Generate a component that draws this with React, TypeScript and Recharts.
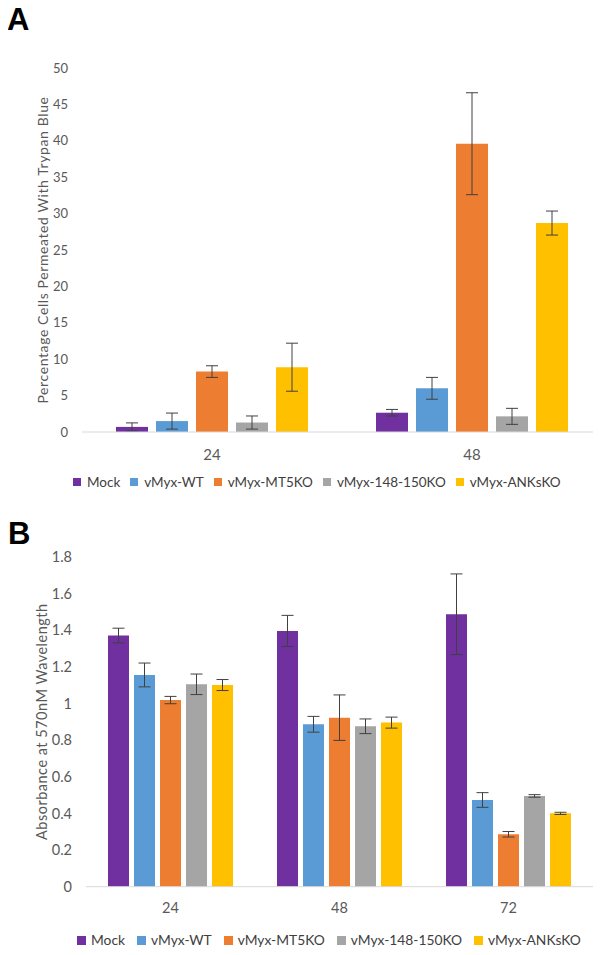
import React from 'react';
import { BarChart, Bar, XAxis, YAxis, ErrorBar } from 'recharts';

const seriesNames = ['Mock', 'vMyx-WT', 'vMyx-MT5KO', 'vMyx-148-150KO', 'vMyx-ANKsKO'];
const seriesColors = ['#7030A0', '#5B9BD5', '#ED7D31', '#A5A5A5', '#FFC000'];

// Panel A: percentage of cells permeated with trypan blue
const catsA = ['24', '48'];
const mockA = [0.7, 2.65];
const wtA = [1.5, 6.0];
const mt5A = [8.3, 39.6];
const ko148A = [1.3, 2.15];
const anksA = [8.9, 28.7];
const mockErrA = [0.55, 0.45];
const wtErrA = [1.1, 1.5];
const mt5ErrA = [0.8, 7.0];
const ko148ErrA = [0.9, 1.1];
const anksErrA = [3.3, 1.65];
const ticksA = [0, 5, 10, 15, 20, 25, 30, 35, 40, 45, 50];

// Panel B: absorbance at 570nM
const catsB = ['24', '48', '72'];
const mockB = [1.37, 1.395, 1.486];
const wtB = [1.155, 0.886, 0.473];
const mt5B = [1.018, 0.922, 0.286];
const ko148B = [1.104, 0.875, 0.495];
const anksB = [1.1, 0.895, 0.4];
const mockErrB = [0.04, 0.085, 0.22];
const wtErrB = [0.065, 0.043, 0.04];
const mt5ErrB = [0.02, 0.124, 0.015];
const ko148ErrB = [0.056, 0.04, 0.007];
const anksErrB = [0.03, 0.03, 0.006];
const ticksB = [0, 0.2, 0.4, 0.6, 0.8, 1, 1.2, 1.4, 1.6, 1.8];

function buildRows(cats: string[], vals: number[][], errs: number[][]) {
  return cats.map((c, i) => {
    const row: Record<string, any> = { cat: c };
    vals.forEach((v, s) => {
      row['s' + s] = v[i];
      row['e' + s] = errs[s][i];
    });
    return row;
  });
}

const dataA = buildRows(catsA, [mockA, wtA, mt5A, ko148A, anksA], [mockErrA, wtErrA, mt5ErrA, ko148ErrA, anksErrA]);
const dataB = buildRows(catsB, [mockB, wtB, mt5B, ko148B, anksB], [mockErrB, wtErrB, mt5ErrB, ko148ErrB, anksErrB]);

const FONT = 'Lato, "Open Sans", sans-serif';
const TICK = '#595959';

function Legend({ top, left, fontSize, gap, sq, sqGap }: { top: number; left: number; fontSize: number; gap: number; sq: number; sqGap: number }) {
  return (
    <div
      style={{
        position: 'absolute',
        top,
        left,
        display: 'flex',
        alignItems: 'center',
        gap,
        fontFamily: FONT,
        fontSize,
        color: '#404040',
        lineHeight: '16px',
        whiteSpace: 'nowrap',
      }}
    >
      {seriesNames.map((n, i) => (
        <div key={n} style={{ display: 'flex', alignItems: 'center' }}>
          <span style={{ display: 'inline-block', width: sq, height: sq, background: seriesColors[i], marginRight: sqGap }} />
          <span>{n}</span>
        </div>
      ))}
    </div>
  );
}

const fmtB = (v: number) => String(Number(v.toFixed(1)));

export default function App() {
  return (
    <div style={{ position: 'relative', width: 601, height: 955, margin: -8, background: '#fff', overflow: 'hidden' }}>
      <div style={{ position: 'absolute', left: 7, top: 4, fontFamily: '"Liberation Sans", Arial, sans-serif', fontWeight: 'bold', fontSize: 31, lineHeight: '31px' }}>A</div>
      <div style={{ position: 'absolute', left: 8, top: 518, fontFamily: '"Liberation Sans", Arial, sans-serif', fontWeight: 'bold', fontSize: 31, lineHeight: '31px' }}>B</div>

      <div style={{ position: 'absolute', left: 0, top: 0 }}>
        <BarChart width={601} height={470} data={dataA} margin={{ top: 68, right: 8, bottom: 8, left: 0 }} barSize={32} barGap={8}>
          <XAxis
            dataKey="cat"
            height={30}
            padding={{ left: 0, right: -9 }}
            axisLine={{ stroke: '#D9D9D9' }}
            tickLine={false}
            tickSize={6}
            tickMargin={11}
            tick={{ fill: TICK, fontSize: 15, fontFamily: FONT }}
          />
          <YAxis
            width={82}
            domain={[0, 50]}
            ticks={ticksA}
            interval={0}
            axisLine={false}
            tickLine={false}
            tickSize={6}
            tickMargin={8}
            tick={{ fill: TICK, fontSize: 13, fontFamily: FONT }}
            label={{
              value: 'Percentage Cells Permeated  With Trypan Blue',
              angle: -90,
              position: 'insideLeft',
              offset: 43,
              style: { textAnchor: 'middle', fill: TICK, fontSize: 14, letterSpacing: 0.6, fontFamily: FONT, whiteSpace: 'pre' },
            }}
          />
          {seriesNames.map((n, i) => (
            <Bar key={n} dataKey={'s' + i} name={n} fill={seriesColors[i]} isAnimationActive={false}>
              <ErrorBar dataKey={'e' + i} width={6} stroke="#404040" strokeWidth={1} direction="y" />
            </Bar>
          ))}
        </BarChart>
      </div>
      <Legend top={474} left={73} fontSize={13.5} gap={10} sq={8} sqGap={6} />

      <div style={{ position: 'absolute', left: 0, top: 510 }}>
        <BarChart width={601} height={420} data={dataB} margin={{ top: 46.7, right: 8, bottom: 13.3, left: 0 }} barSize={21} barGap={5}>
          <XAxis
            dataKey="cat"
            height={30}
            axisLine={{ stroke: '#D9D9D9' }}
            tickLine={false}
            tickSize={6}
            tickMargin={10}
            tick={{ fill: TICK, fontSize: 14.5, fontFamily: FONT }}
          />
          <YAxis
            width={86}
            domain={[0, 1.8]}
            ticks={ticksB}
            interval={0}
            tickFormatter={fmtB}
            axisLine={false}
            tickLine={false}
            tickSize={6}
            tickMargin={8}
            tick={{ fill: TICK, fontSize: 14.5, fontFamily: FONT }}
            label={{
              value: 'Absorbance at 570nM Wavelength',
              angle: -90,
              position: 'insideLeft',
              offset: 42,
              style: { textAnchor: 'middle', fill: TICK, fontSize: 14.5, letterSpacing: 0.5, fontFamily: FONT },
            }}
          />
          {seriesNames.map((n, i) => (
            <Bar key={n} dataKey={'s' + i} name={n} fill={seriesColors[i]} isAnimationActive={false}>
              <ErrorBar dataKey={'e' + i} width={6} stroke="#404040" strokeWidth={1} direction="y" />
            </Bar>
          ))}
        </BarChart>
      </div>
      <Legend top={932} left={77} fontSize={13.8} gap={12} sq={9} sqGap={5} />
    </div>
  );
}
